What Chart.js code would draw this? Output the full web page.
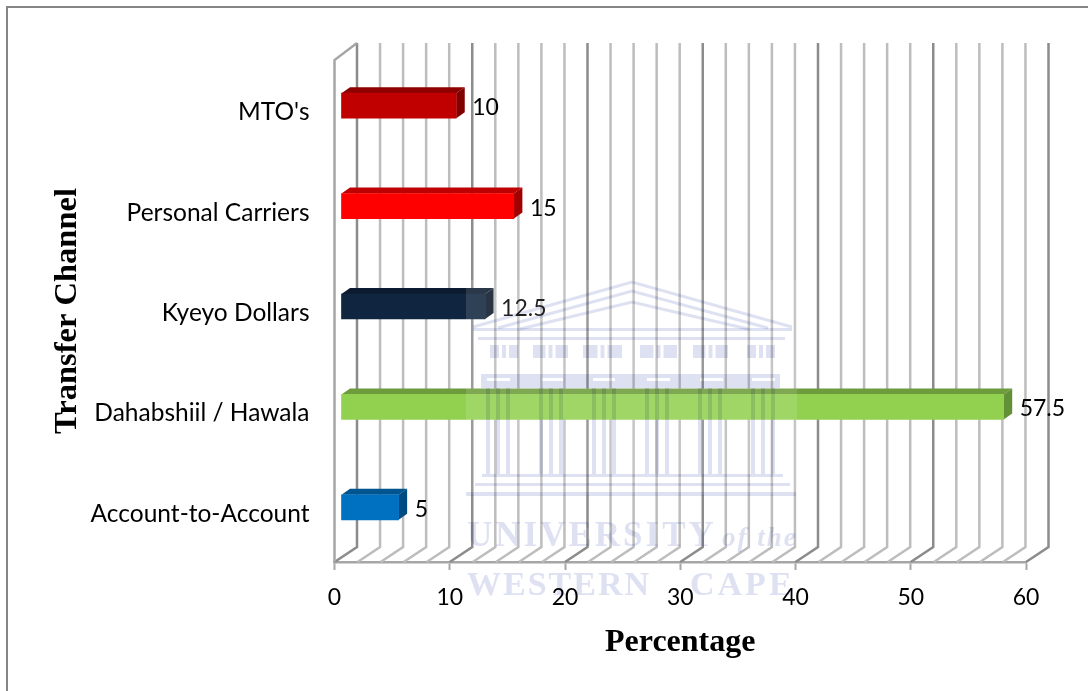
<!DOCTYPE html>
<html>
<head>
<meta charset="utf-8">
<title>Transfer Channel</title>
<script src="https://cdn.jsdelivr.net/npm/chart.js@4"></script>
<style>
  html, body { margin: 0; padding: 0; background: #fff; }
  #wrap { position: relative; width: 1088px; height: 691px; overflow: hidden; }
  canvas { display: block; }
</style>
</head>
<body>
<div id="wrap"><canvas id="chart" width="1088" height="691"></canvas></div>
<script>
const channels = ['MTO\'s', 'Personal Carriers', 'Kyeyo Dollars', 'Dahabshiil / Hawala', 'Account-to-Account']
const percentages = [10, 15, 12.5, 57.5, 5]
const faceColors = ['#C00000', '#FF0000', '#10253F', '#92D050', '#0070C0']
const topColors = ['#8F0000', '#BF0000', '#0C1B2F', '#6D9C3C', '#00548F']
const sideColors = ['#800000', '#A00000', '#0A1728', '#639037', '#004C82']

const LABEL_FONT = '23px Lato'
const DEPTH = { x: 22.5, y: -15, top: -17 }  // wall depth of the 3D box
const BAR_SHIFT = { x: 6.5, y: -4.5 }        // bars sit inside the box
const BAR_DEPTH = { x: 8.5, y: -6 }

// Back wall, floor and left wall of the 3D box
const wallPlugin = {
  id: 'walls',
  beforeDatasetsDraw(chart) {
    const { ctx, scales: { x, y } } = chart
    ctx.save()
    ctx.lineWidth = 2.5
    x.ticks.forEach(tick => {
      const px = x.getPixelForValue(tick.value)
      ctx.strokeStyle = tick.value % 10 === 0 ? '#8C8C8C' : '#BDBDBD'
      ctx.beginPath()
      ctx.moveTo(px, y.bottom)
      ctx.lineTo(px + DEPTH.x, y.bottom + DEPTH.y)
      ctx.lineTo(px + DEPTH.x, y.top + DEPTH.top)
      ctx.stroke()
    })
    ctx.strokeStyle = '#A6A6A6'
    ctx.beginPath()
    ctx.moveTo(x.left, y.bottom)
    ctx.lineTo(x.left, y.top)
    ctx.lineTo(x.left + DEPTH.x, y.top + DEPTH.top)
    ctx.stroke()
    ctx.restore()
  }
}

// Top and side faces for each bar, then shift the library's front face
const barPlugin = {
  id: 'bars3d',
  beforeDatasetsDraw(chart) {
    const { ctx } = chart
    ctx.save()
    ctx.translate(BAR_SHIFT.x, BAR_SHIFT.y)
    chart.getDatasetMeta(0).data.forEach((bar, i) => {
      const { x, y, base, height } = bar.getProps(['x', 'y', 'base', 'height'], true)
      const top = y - height / 2
      const bottom = y + height / 2
      ctx.fillStyle = topColors[i]
      ctx.beginPath()
      ctx.moveTo(base, top)
      ctx.lineTo(base + BAR_DEPTH.x, top + BAR_DEPTH.y)
      ctx.lineTo(x + BAR_DEPTH.x, top + BAR_DEPTH.y)
      ctx.lineTo(x, top)
      ctx.fill()
      ctx.fillStyle = sideColors[i]
      ctx.beginPath()
      ctx.moveTo(x, top)
      ctx.lineTo(x + BAR_DEPTH.x, top + BAR_DEPTH.y)
      ctx.lineTo(x + BAR_DEPTH.x, bottom + BAR_DEPTH.y)
      ctx.lineTo(x, bottom)
      ctx.fill()
    })
  },
  afterDatasetsDraw(chart) {
    const { ctx } = chart
    ctx.restore()
    // value labels
    ctx.save()
    ctx.font = LABEL_FONT
    ctx.fillStyle = '#000'
    ctx.textAlign = 'left'
    ctx.textBaseline = 'middle'
    chart.getDatasetMeta(0).data.forEach((bar, i) => {
      ctx.fillText(String(percentages[i]), bar.x + BAR_SHIFT.x + 16, bar.y + BAR_SHIFT.y + 2)
    })
    ctx.restore()
  }
}

// Faint university crest laid over the finished chart
const crestPlugin = {
  id: 'crest',
  afterDraw(chart) {
    const { ctx } = chart
    const tint = 'rgba(214,217,238,0.8)'
    ctx.save()
    ctx.fillStyle = 'rgba(255,255,255,0.13)'
    ctx.fillRect(466, 280, 331, 215)
    ctx.globalCompositeOperation = 'multiply'
    ctx.filter = 'blur(0.7px)'
    ctx.strokeStyle = tint
    ctx.fillStyle = tint

    // pediment
    ctx.lineWidth = 3
    ;[[473, 327, 632, 282, 792, 327], [498, 328, 632, 291, 768, 328], [520, 329, 632, 302, 748, 329]].forEach(p => {
      ctx.beginPath()
      ctx.moveTo(p[0], p[1])
      ctx.lineTo(p[2], p[3])
      ctx.lineTo(p[4], p[5])
      ctx.stroke()
    })
    ctx.fillRect(473, 328, 319, 3)
    ctx.fillRect(478, 337, 307, 3)

    // frieze panels between the windows, each with two slits
    ;[[490, 518], [533, 568], [583, 622], [640, 677], [693, 728], [747, 775]].forEach(([a, b]) => {
      const mid = (a + b) / 2
      ctx.fillRect(a, 345, mid - a - 5, 13)
      ctx.fillRect(mid - 2, 345, 4, 13)
      ctx.fillRect(mid + 5, 345, b - mid - 5, 13)
    })

    // cornice above the columns, with pale capitals left open
    ctx.fillRect(481, 374, 299, 4)
    ctx.fillRect(481, 381, 299, 7)
    ;[[481, 487], [510, 542], [563, 593], [615, 647], [670, 700], [723, 752], [775, 780]].forEach(([a, b]) => {
      ctx.fillRect(a, 378, b - a, 3)
    })

    // column groups
    ;[498, 551, 604, 657, 710, 763].forEach(cx => {
      [-10, 0, 10].forEach(dx => ctx.fillRect(cx + dx - 2, 388, 4, 86))
    })

    // steps
    ctx.fillRect(482, 474, 301, 3)
    ctx.fillRect(475, 483, 315, 3)
    ctx.fillRect(466, 492, 330, 4)

    // name
    ctx.textBaseline = 'alphabetic'
    ctx.textAlign = 'left'
    ctx.font = 'bold 35px "Liberation Serif"'
    ctx.letterSpacing = '3px'
    ctx.fillText('UNIVERSITY', 467, 546)
    ctx.font = 'bold 34px "Liberation Serif"'
    ctx.letterSpacing = '2px'
    ctx.fillText('WESTERN', 467, 595)
    ctx.letterSpacing = '3px'
    ctx.fillText('CAPE', 690, 595)
    ctx.font = 'italic bold 27px "Liberation Serif"'
    ctx.letterSpacing = '2px'
    ctx.fillText('of the', 722, 546)
    ctx.restore()
  }
}

const framePlugin = {
  id: 'frame',
  beforeDraw(chart) {
    const { ctx } = chart
    ctx.save()
    ctx.fillStyle = '#868686'
    ctx.fillRect(6, 6, 1082, 2)
    ctx.fillRect(6, 6, 2, 685)
    ctx.restore()
  }
}

Chart.defaults.font.family = 'Lato'
Chart.defaults.color = '#000'

new Chart(document.getElementById('chart'), {
  type: 'bar',
  data: {
    labels: channels,
    datasets: [{
      data: percentages,
      backgroundColor: faceColors,
      barThickness: 25,
      borderWidth: 0
    }]
  },
  options: {
    indexAxis: 'y',
    responsive: false,
    animation: false,
    layout: { padding: { left: 0, top: 60, right: 62, bottom: 25 } },
    plugins: { legend: { display: false }, tooltip: { enabled: false } },
    scales: {
      x: {
        min: 0,
        max: 60,
        afterFit: scale => { scale.height = 104 },
        grid: {
          drawOnChartArea: false,
          tickLength: 8,
          tickWidth: 2,
          tickColor: ctx => ctx.tick && ctx.tick.value % 10 === 0 ? '#A6A6A6' : 'transparent'
        },
        border: { display: true, color: '#A6A6A6', width: 2.5 },
        ticks: {
          stepSize: 2,
          autoSkip: false,
          maxRotation: 0,
          padding: 14,
          font: { size: 23 },
          callback: value => value % 10 === 0 ? value : ''
        },
        title: {
          display: true,
          text: 'Percentage',
          font: { family: 'Liberation Serif', size: 32, weight: 'bold' },
          padding: { top: 0 }
        }
      },
      y: {
        afterFit: scale => { scale.width = 334.5 },
        grid: { display: false },
        border: { display: false },
        ticks: { padding: 17, labelOffset: 2, font: { size: 24.5 } },
        title: {
          display: true,
          text: 'Transfer Channel',
          font: { family: 'Liberation Serif', size: 32.5, weight: 'bold' },
          padding: { top: 48 }
        }
      }
    }
  },
  plugins: [framePlugin, wallPlugin, barPlugin, crestPlugin]
})
</script>
</body>
</html>
